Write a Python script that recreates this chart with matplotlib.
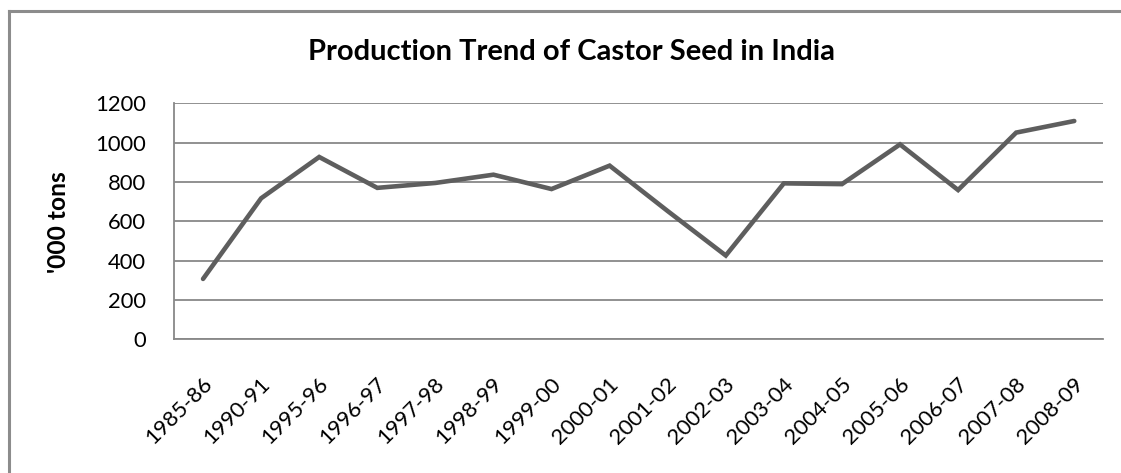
import matplotlib
matplotlib.use("Agg")
import matplotlib.pyplot as plt
from matplotlib.lines import Line2D
from matplotlib.transforms import ScaledTranslation

categories = ["1985-86", "1990-91", "1995-96", "1996-97", "1997-98", "1998-99",
              "1999-00", "2000-01", "2001-02", "2002-03", "2003-04", "2004-05",
              "2005-06", "2006-07", "2007-08", "2008-09"]
production = [307, 717, 927, 770, 795, 837, 764, 883, 652, 426, 793, 789,
              991, 759, 1051, 1110]
yticks = [0, 200, 400, 600, 800, 1000, 1200]

W, H = 1121, 473
fig = plt.figure(figsize=(W / 100, H / 100), dpi=100)
fig.patch.set_facecolor("white")
font = "Lato"

border_col = "#8c8c8c"
fig.add_artist(Line2D([9 / W, 9 / W], [0, 1 - 11 / H], transform=fig.transFigure,
                      color=border_col, lw=2.2, solid_capstyle="projecting"))
fig.add_artist(Line2D([9 / W, 1.0], [1 - 11 / H, 1 - 11 / H], transform=fig.transFigure,
                      color=border_col, lw=2.2, solid_capstyle="projecting"))

left, right, top, bottom = 174, 1103.3, 103.3, 339.3
ax = fig.add_axes([left / W, 1 - bottom / H, (right - left) / W, (bottom - top) / H])
x = list(range(len(categories)))
ax.plot(x, production, color="#5e5e5e", lw=3.3, solid_joinstyle="miter",
        solid_capstyle="round", zorder=3)

ax.set_xlim(-0.5, len(categories) - 0.5)
ax.set_ylim(0, 1200)
ax.set_yticks(yticks)
ax.set_yticklabels([str(v) for v in yticks], fontsize=15.7, fontname=font)
ax.yaxis.grid(True, color="#888888", lw=1.3)
ax.set_axisbelow(True)
ax.set_xticks(x)
ax.set_xticklabels(categories, rotation=45, ha="right", va="center",
                   rotation_mode="anchor", fontsize=15.7, fontname=font)
ax.tick_params(axis="both", length=0)
ax.tick_params(axis="y", pad=20)
ax.tick_params(axis="x", pad=30)
shift = ScaledTranslation(6 / 100, 0, fig.dpi_scale_trans)
for t in ax.get_xticklabels():
    t.set_transform(t.get_transform() + shift)
for s in ["top", "right"]:
    ax.spines[s].set_visible(False)
for s in ["left", "bottom"]:
    ax.spines[s].set_color("#888888")
    ax.spines[s].set_linewidth(1.3)

title = fig.text(571 / W, 1 - 52 / H, "Production Trend of Castor Seed in India",
                 ha="center", va="center", fontsize=20, fontweight="bold", fontname=font)
ylab = fig.text(59 / W, 1 - 222.5 / H, "'000 tons", ha="center", va="center", rotation=90,
                fontsize=15, fontweight="bold", fontname=font)

# fit sizes to measured pixel extents
fig.canvas.draw()
r = fig.canvas.get_renderer()
w = title.get_window_extent(r).width
title.set_fontsize(20 * 528 / w)
hgt = ylab.get_window_extent(r).height
ylab.set_fontsize(15 * 101.7 / hgt)
lab = ax.get_yticklabels()[-1]
wl = lab.get_window_extent(r).width
fs = 15.7 * 50.6 / wl
for t in ax.get_yticklabels() + ax.get_xticklabels():
    t.set_fontsize(fs)

fig.savefig("out.png", dpi=100, facecolor="white")
